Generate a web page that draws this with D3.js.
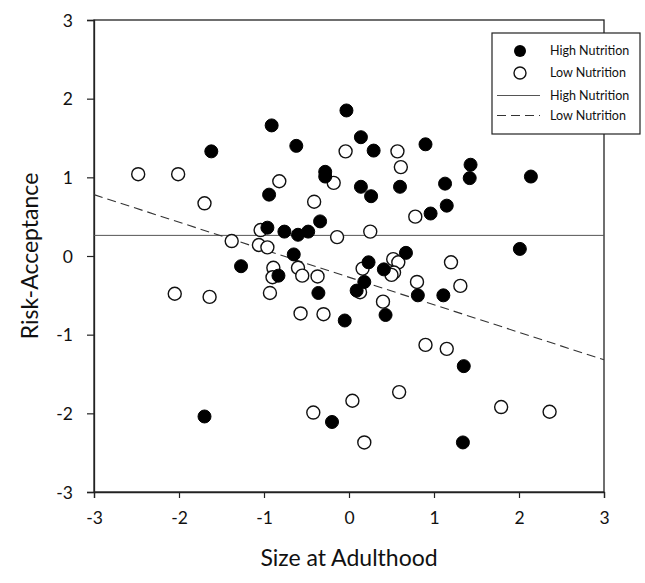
<!DOCTYPE html>
<html>
<head>
<meta charset="utf-8">
<script src="https://cdn.jsdelivr.net/npm/d3@7"></script>
<style>
  body { margin: 0; background: #fff; }
  svg text { font-family: Lato, "Open Sans", sans-serif; fill: #111; }
</style>
</head>
<body>
<div id="chart"></div>
<script>
// scatter data (x = size at adulthood, y = risk-acceptance)
const highX = [-0.03, -0.91, -0.62, -1.62, -0.28, -0.28, -0.94, -0.34, -0.96, -0.76, -0.60, -0.48, -0.65, -1.27,
  -0.83, -0.36, -0.05, -1.70, -0.20, 2.01, 0.67, 0.23, 0.41, 0.18, 0.09, 0.81, 1.11, 0.43, 1.35, 1.34,
  0.14, 0.29, 0.90, 1.43, 1.42, 2.14, 0.14, 0.26, 0.60, 1.13, 1.15, 0.96];
const highY = [1.85, 1.66, 1.40, 1.33, 1.07, 1.01, 0.78, 0.44, 0.36, 0.31, 0.27, 0.31, 0.02, -0.13,
  -0.25, -0.47, -0.82, -2.04, -2.11, 0.09, 0.04, -0.08, -0.17, -0.33, -0.44, -0.50, -0.50, -0.75, -1.40, -2.37,
  1.51, 1.34, 1.42, 1.16, 0.99, 1.01, 0.88, 0.76, 0.88, 0.92, 0.64, 0.54];
const lowX = [-2.48, -2.01, -1.70, -0.82, -0.18, -0.04, -0.41, -1.04, -0.14, -1.38, -1.06, -0.96, -0.89, -0.90,
  -0.60, -0.55, -0.37, -0.93, -2.05, -1.64, -0.57, -0.30, -0.42, 0.04, 0.52, 0.58, 0.16, 0.53, 0.50, 1.20,
  0.13, 0.80, 1.31, 0.40, 0.90, 1.15, 0.59, 1.79, 2.36, 0.18, 0.57, 0.61, 0.78, 0.25];
const lowY = [1.04, 1.04, 0.67, 0.95, 0.93, 1.33, 0.69, 0.33, 0.24, 0.19, 0.14, 0.11, -0.15, -0.27,
  -0.15, -0.25, -0.26, -0.47, -0.48, -0.52, -0.73, -0.74, -1.99, -1.84, -0.04, -0.08, -0.16, -0.21, -0.24, -0.08,
  -0.46, -0.33, -0.38, -0.58, -1.13, -1.18, -1.73, -1.92, -1.98, -2.37, 1.33, 1.13, 0.50, 0.31];

// fitted lines: [intercept, slope]
const highFit = [0.262, 0];
const lowFit = [-0.27, -0.35];

const ticks = [-3, -2, -1, 0, 1, 2, 3];
const legendLabels = ["High Nutrition", "Low Nutrition", "High Nutrition", "Low Nutrition"];

const width = 645, height = 583;
const svg = d3.select("#chart").append("svg")
  .attr("width", width).attr("height", height);

const x = d3.scaleLinear().domain([-3, 3]).range([94, 604]);
const y = d3.scaleLinear().domain([-3, 3]).range([492, 20]);

// frame
svg.append("rect")
  .attr("x", x(-3)).attr("y", y(3))
  .attr("width", x(3) - x(-3)).attr("height", y(-3) - y(3))
  .attr("fill", "none").attr("stroke", "#222").attr("stroke-width", 1.3);

// plain hyphen minus like the original
const fmt = d => String(d);
const xAxis = svg.append("g")
  .attr("transform", `translate(0,${y(-3)})`)
  .call(d3.axisBottom(x).tickValues(ticks).tickSize(6).tickPadding(14).tickFormat(fmt));
const yAxis = svg.append("g")
  .attr("transform", `translate(${x(-3)},0)`)
  .call(d3.axisLeft(y).tickValues(ticks).tickSize(7).tickPadding(14).tickFormat(fmt));
[xAxis, yAxis].forEach(a => {
  a.select(".domain").attr("stroke", "#222").attr("stroke-width", 1.3);
  a.selectAll(".tick line").attr("stroke", "#222").attr("stroke-width", 1.2);
  a.selectAll(".tick text").attr("font-size", 17.5).attr("font-family", "Lato, sans-serif").attr("fill", "#111");
});
yAxis.selectAll(".tick text").attr("dy", "0.35em");

// regression lines
const line = d3.line().x(d => x(d[0])).y(d => y(d[1]));
const ends = [ticks[0], ticks[ticks.length - 1]];
svg.append("path")
  .attr("d", line(ends.map(v => [v, highFit[0] + highFit[1] * v])))
  .attr("stroke", "#555").attr("stroke-width", 1).attr("fill", "none");
svg.append("path")
  .attr("d", line(ends.map(v => [v, lowFit[0] + lowFit[1] * v])))
  .attr("stroke", "#333").attr("stroke-width", 1.1).attr("stroke-dasharray", "9,5").attr("fill", "none");

// points
const r = 6.5;
svg.append("g").selectAll("circle").data(lowX.map((v, i) => [v, lowY[i]])).enter()
  .append("circle")
  .attr("cx", d => x(d[0])).attr("cy", d => y(d[1])).attr("r", r)
  .attr("fill", "#fff").attr("stroke", "#111").attr("stroke-width", 1.4);
svg.append("g").selectAll("circle").data(highX.map((v, i) => [v, highY[i]])).enter()
  .append("circle")
  .attr("cx", d => x(d[0])).attr("cy", d => y(d[1])).attr("r", r)
  .attr("fill", "#000").attr("stroke", "#000").attr("stroke-width", 1);

// legend
const lg = svg.append("g").attr("transform", "translate(492,33)");
lg.append("rect").attr("width", 148).attr("height", 101)
  .attr("fill", "#fff").attr("stroke", "#222").attr("stroke-width", 1.2);
const rowY = [18, 40, 62.5, 82.5];
lg.append("circle").attr("cx", 28).attr("cy", rowY[0]).attr("r", 6).attr("fill", "#000");
lg.append("circle").attr("cx", 28).attr("cy", rowY[1]).attr("r", 6)
  .attr("fill", "#fff").attr("stroke", "#111").attr("stroke-width", 1.4);
lg.append("line").attr("x1", 5).attr("x2", 48).attr("y1", rowY[2]).attr("y2", rowY[2])
  .attr("stroke", "#555").attr("stroke-width", 1);
lg.append("line").attr("x1", 5).attr("x2", 48).attr("y1", rowY[3]).attr("y2", rowY[3])
  .attr("stroke", "#333").attr("stroke-width", 1.1).attr("stroke-dasharray", "9,5");
lg.selectAll("text.lab").data(legendLabels).enter().append("text")
  .attr("class", "lab")
  .attr("x", 58).attr("y", (d, i) => rowY[i]).attr("dy", "0.35em")
  .attr("font-size", 12.5).text(d => d);

// axis titles
svg.append("text").attr("x", x(0)).attr("y", 566)
  .attr("text-anchor", "middle").attr("font-size", 23).text("Size at Adulthood");
svg.append("text").attr("transform", `translate(38,${y(0)}) rotate(-90)`)
  .attr("text-anchor", "middle").attr("font-size", 23).text("Risk-Acceptance");
</script>
</body>
</html>
